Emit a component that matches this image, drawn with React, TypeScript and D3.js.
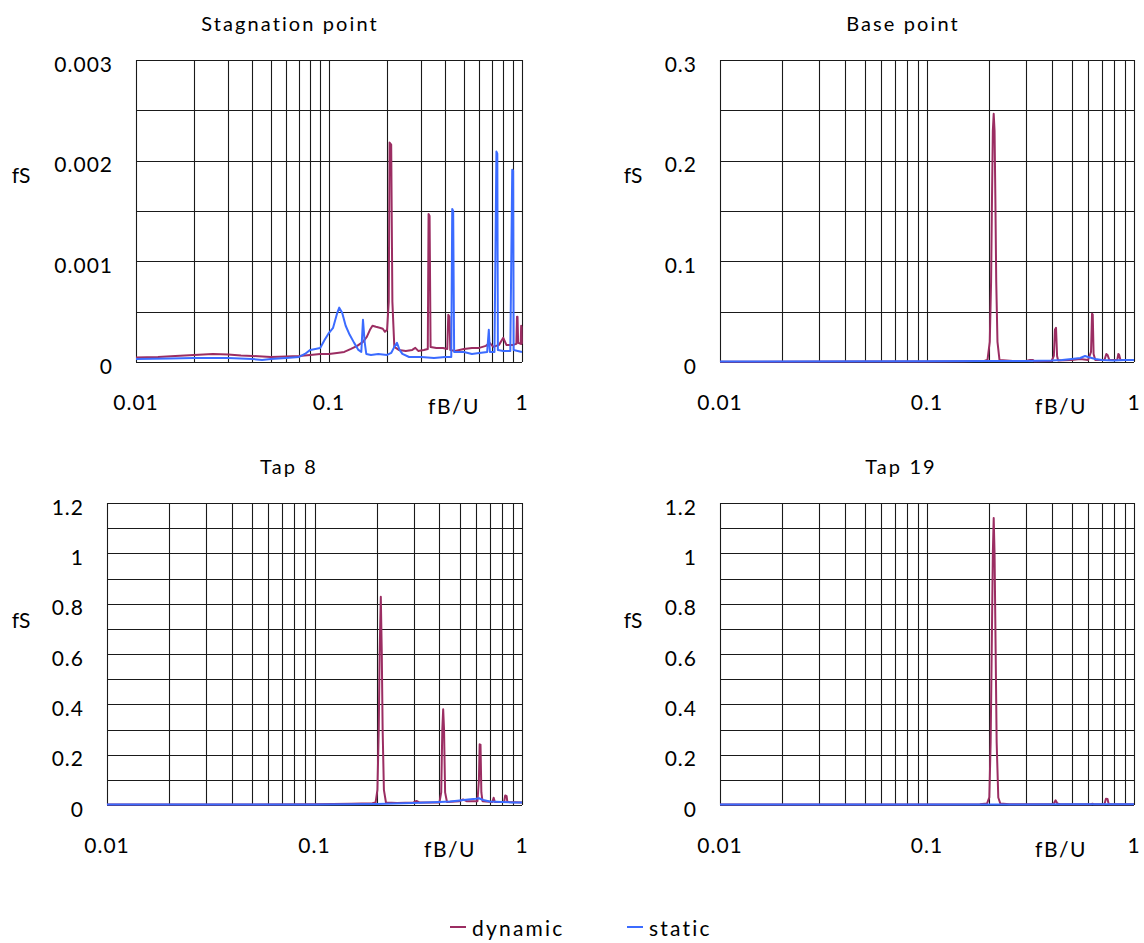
import React from "react";
import * as d3 from "d3";

// ---------- data ----------
const xTickValues = [0.01, 0.1, 1];
const xTickLabels = ["0.01", "0.1", "1"];

const stagYTicks = [0, 0.001, 0.002, 0.003];
const stagYLabels = ["0", "0.001", "0.002", "0.003"];
const baseYTicks = [0, 0.1, 0.2, 0.3];
const baseYLabels = ["0", "0.1", "0.2", "0.3"];
const tapYTicks = [0, 0.2, 0.4, 0.6, 0.8, 1, 1.2];
const tapYLabels = ["0", "0.2", "0.4", "0.6", "0.8", "1", "1.2"];

const seriesNames = ["dynamic", "static"];
const panelTitles = ["Stagnation point", "Base point", "Tap 8", "Tap 19"];

const stagDynamic: [number, number][] = [
  [0.01, 0.000045], [0.013, 0.00005], [0.016, 0.00006], [0.02, 0.00007], [0.025, 0.00008],
  [0.03, 0.000075], [0.035, 0.000065], [0.04, 0.00006], [0.05, 0.00005], [0.06, 0.000055],
  [0.07, 0.00006], [0.08, 0.00007], [0.09, 0.00008], [0.1, 0.00008], [0.11, 0.00009],
  [0.12, 0.0001], [0.13, 0.00013], [0.14, 0.00016], [0.15, 0.0002], [0.157, 0.00025],
  [0.163, 0.00032], [0.168, 0.00036], [0.175, 0.00035], [0.183, 0.00034], [0.19, 0.00033],
  [0.195, 0.0003], [0.2, 0.00032], [0.204, 0.0006], [0.206, 0.00218], [0.21, 0.00216],
  [0.213, 0.0006], [0.218, 0.00015], [0.23, 0.00012], [0.25, 0.00011], [0.27, 0.00012],
  [0.28, 0.00014], [0.29, 0.00011], [0.31, 0.00012], [0.325, 0.00013], [0.328, 0.00147],
  [0.332, 0.00145], [0.336, 0.00015], [0.36, 0.00014], [0.39, 0.00014], [0.41, 0.00013],
  [0.415, 0.00047], [0.421, 0.00045], [0.425, 0.00012], [0.45, 0.00011], [0.5, 0.00013],
  [0.55, 0.00014], [0.6, 0.00014], [0.65, 0.00016], [0.68, 0.00019], [0.71, 0.00015],
  [0.76, 0.00017], [0.8, 0.00024], [0.83, 0.00017], [0.9, 0.00017], [0.935, 0.00018],
  [0.942, 0.00045], [0.948, 0.00045], [0.955, 0.00019], [0.985, 0.00018], [0.99, 0.00036],
  [0.995, 0.00035], [0.998, 0.00018], [1.0, 0.00018],
];

const stagStatic: [number, number][] = [
  [0.01, 0.00003], [0.015, 0.000035], [0.02, 0.00004], [0.03, 0.00004], [0.04, 0.00003],
  [0.045, 0.00002], [0.05, 0.00003], [0.06, 0.00004], [0.07, 0.00005], [0.075, 0.00008],
  [0.08, 0.00012], [0.085, 0.00013], [0.09, 0.00014], [0.095, 0.00022], [0.1, 0.00029],
  [0.105, 0.00034], [0.11, 0.00048], [0.113, 0.00054], [0.117, 0.00049], [0.122, 0.00036],
  [0.128, 0.00027], [0.135, 0.00019], [0.142, 0.00012], [0.147, 0.0001], [0.15, 0.00042],
  [0.153, 0.0002], [0.156, 0.00008], [0.165, 0.00007], [0.18, 0.00008], [0.2, 0.00007],
  [0.21, 0.00009], [0.218, 0.00015], [0.225, 0.00019], [0.232, 0.00012], [0.24, 0.00008],
  [0.26, 0.00005], [0.3, 0.00005], [0.35, 0.00004], [0.4, 0.00005], [0.43, 0.00005],
  [0.435, 0.00152], [0.44, 0.0015], [0.445, 0.0001], [0.5, 0.0001], [0.55, 0.00008],
  [0.6, 0.00009], [0.66, 0.0001], [0.673, 0.00032], [0.682, 0.0001], [0.72, 0.0001],
  [0.737, 0.00209], [0.745, 0.00207], [0.75, 0.00012], [0.8, 0.00011], [0.87, 0.00011],
  [0.89, 0.00191], [0.9, 0.0019], [0.905, 0.00012], [0.95, 0.00011], [1.0, 0.0001],
];

const baseDynamic: [number, number][] = [
  [0.01, 0.0003], [0.05, 0.0004], [0.1, 0.0006], [0.15, 0.0008], [0.19, 0.0012],
  [0.196, 0.002], [0.201, 0.02], [0.204, 0.08], [0.206, 0.16], [0.208, 0.23],
  [0.21, 0.2465], [0.212, 0.23], [0.214, 0.16], [0.216, 0.08], [0.219, 0.02],
  [0.224, 0.002], [0.26, 0.001], [0.3, 0.001], [0.315, 0.002], [0.325, 0.002],
  [0.33, 0.0008], [0.4, 0.001], [0.41, 0.006], [0.415, 0.032], [0.42, 0.034],
  [0.425, 0.006], [0.43, 0.0015], [0.5, 0.002], [0.55, 0.003], [0.6, 0.002],
  [0.62, 0.01], [0.627, 0.048], [0.632, 0.047], [0.638, 0.008], [0.65, 0.002],
  [0.72, 0.002], [0.735, 0.008], [0.745, 0.007], [0.76, 0.002], [0.83, 0.002],
  [0.84, 0.008], [0.848, 0.007], [0.86, 0.002], [1.0, 0.002],
];

const baseStatic: [number, number][] = [
  [0.01, 0.0005], [0.1, 0.0008], [0.2, 0.001], [0.3, 0.001], [0.4, 0.0015],
  [0.45, 0.002], [0.5, 0.003], [0.55, 0.004], [0.58, 0.006], [0.6, 0.005],
  [0.65, 0.003], [0.7, 0.002], [0.8, 0.0015], [0.9, 0.002], [1.0, 0.002],
];

const tap8Dynamic: [number, number][] = [
  [0.01, 0.002], [0.05, 0.002], [0.1, 0.003], [0.15, 0.005], [0.19, 0.007],
  [0.197, 0.01], [0.201, 0.06], [0.204, 0.3], [0.206, 0.6], [0.2087, 0.827],
  [0.211, 0.6], [0.213, 0.3], [0.216, 0.06], [0.221, 0.01], [0.25, 0.008],
  [0.3, 0.01], [0.31, 0.016], [0.32, 0.01], [0.4, 0.01], [0.408, 0.05],
  [0.413, 0.3], [0.417, 0.38], [0.421, 0.3], [0.426, 0.05], [0.435, 0.012],
  [0.5, 0.015], [0.52, 0.022], [0.54, 0.015], [0.61, 0.015], [0.62, 0.1],
  [0.625, 0.241], [0.631, 0.24], [0.637, 0.05], [0.645, 0.015], [0.72, 0.012],
  [0.73, 0.029], [0.74, 0.012], [0.82, 0.012], [0.83, 0.038], [0.843, 0.035],
  [0.85, 0.012], [1.0, 0.01],
];

const tap8Static: [number, number][] = [
  [0.01, 0.002], [0.1, 0.002], [0.15, 0.003], [0.2, 0.004], [0.3, 0.008],
  [0.4, 0.012], [0.45, 0.014], [0.5, 0.018], [0.55, 0.022], [0.6, 0.025],
  [0.62, 0.027], [0.65, 0.02], [0.7, 0.014], [0.8, 0.012], [0.9, 0.01], [1.0, 0.01],
];

const tap19Dynamic: [number, number][] = [
  [0.01, 0.002], [0.1, 0.002], [0.18, 0.003], [0.195, 0.006], [0.2, 0.03],
  [0.203, 0.25], [0.206, 0.7], [0.208, 1.0], [0.21, 1.14], [0.212, 1.0],
  [0.214, 0.7], [0.217, 0.25], [0.221, 0.03], [0.226, 0.006], [0.25, 0.003],
  [0.4, 0.003], [0.41, 0.006], [0.418, 0.0185], [0.426, 0.006], [0.44, 0.003],
  [0.62, 0.003], [0.63, 0.005], [0.64, 0.003], [0.72, 0.003], [0.732, 0.025],
  [0.745, 0.024], [0.755, 0.003], [1.0, 0.003],
];

const tap19Static: [number, number][] = [
  [0.01, 0.002], [0.2, 0.002], [0.5, 0.003], [1.0, 0.003],
];

// ---------- layout ----------
const COLORS = ["#9B2D62", "#3B6BFF"];
const FONT = "Lato, 'Open Sans', sans-serif";

type Panel = {
  title: string;
  left: number; right: number; top: number; bottom: number;
  yMax: number; yStep: number;
  yTicks: number[]; yLabels: string[];
  titlePos: [number, number];
  fsPos: [number, number];
  fbuPos: [number, number];
  series: [number, number][][];
};

const panels: Panel[] = [
  {
    title: panelTitles[0], left: 136, right: 522, top: 60, bottom: 362,
    yMax: 0.003, yStep: 0.0005, yTicks: stagYTicks, yLabels: stagYLabels,
    titlePos: [290, 23], fsPos: [21, 174], fbuPos: [454, 405],
    series: [stagDynamic, stagStatic],
  },
  {
    title: panelTitles[1], left: 720, right: 1134, top: 60, bottom: 362,
    yMax: 0.3, yStep: 0.05, yTicks: baseYTicks, yLabels: baseYLabels,
    titlePos: [903, 23], fsPos: [633, 174], fbuPos: [1061, 405],
    series: [baseDynamic, baseStatic],
  },
  {
    title: panelTitles[2], left: 107, right: 522, top: 503, bottom: 805,
    yMax: 1.2, yStep: 0.1, yTicks: tapYTicks, yLabels: tapYLabels,
    titlePos: [289, 466], fsPos: [21, 619], fbuPos: [450, 848],
    series: [tap8Dynamic, tap8Static],
  },
  {
    title: panelTitles[3], left: 720, right: 1134, top: 503, bottom: 805,
    yMax: 1.2, yStep: 0.1, yTicks: tapYTicks, yLabels: tapYLabels,
    titlePos: [901, 466], fsPos: [633, 619], fbuPos: [1061, 848],
    series: [tap19Dynamic, tap19Static],
  },
];

function ChartPanel({ p }: { p: Panel }) {
  const x = d3.scaleLog().domain([0.01, 1]).range([p.left, p.right]);
  const y = d3.scaleLinear().domain([0, p.yMax]).range([p.bottom, p.top]);
  const xGrid: number[] = [];
  for (const dec of [0.01, 0.1]) {
    for (let k = 1; k <= 9; k++) xGrid.push(+(dec * k).toPrecision(3));
  }
  xGrid.push(1);
  const nY = Math.round(p.yMax / p.yStep);
  const yGrid = d3.range(0, nY + 1).map((i) => i * p.yStep);
  const line = d3
    .line<[number, number]>()
    .x((d) => x(d[0]))
    .y((d) => y(d[1]))
    .curve(d3.curveLinear);
  const cr = (v: number) => Math.round(v) + 0.5;

  return (
    <g>
      {yGrid.map((v, i) => (
        <line key={"yg" + i} x1={p.left} x2={p.right} y1={cr(y(v))} y2={cr(y(v))} stroke="#1a1a1a" strokeWidth={1.1} />
      ))}
      {xGrid.map((v, i) => (
        <line key={"xg" + i} x1={cr(x(v))} x2={cr(x(v))} y1={p.top} y2={p.bottom} stroke="#1a1a1a" strokeWidth={1.1} />
      ))}
      {p.series.map((s, i) => (
        <path key={"s" + i} d={line(s) || ""} fill="none" stroke={COLORS[i]} strokeWidth={2} strokeLinejoin="round" />
      ))}
      {p.yTicks.map((v, i) => (
        <text key={"yl" + i} x={p.left - 23} y={y(v) + 3} textAnchor="end" dominantBaseline="central"
          fontFamily={FONT} fontSize={21} letterSpacing={1} fill="#000">
          {p.yLabels[i]}
        </text>
      ))}
      {xTickValues.map((v, i) => (
        <text key={"xl" + i} x={x(v)} y={p.bottom + 39} textAnchor="middle" dominantBaseline="central"
          fontFamily={FONT} fontSize={21} letterSpacing={1} fill="#000">
          {xTickLabels[i]}
        </text>
      ))}
      <text x={p.titlePos[0]} y={p.titlePos[1]} textAnchor="middle" dominantBaseline="central"
        fontFamily={FONT} fontSize={20} letterSpacing={2.1} fill="#000">
        {p.title}
      </text>
      <text x={p.fsPos[0]} y={p.fsPos[1]} textAnchor="middle" dominantBaseline="central"
        fontFamily={FONT} fontSize={21} fill="#000">
        fS
      </text>
      <text x={p.fbuPos[0]} y={p.fbuPos[1]} textAnchor="middle" dominantBaseline="central"
        fontFamily={FONT} fontSize={21} letterSpacing={1.5} fill="#000">
        fB/U
      </text>
    </g>
  );
}

export default function App() {
  const legendX = [450, 627];
  return (
    <svg width={1144} height={943} style={{ position: "absolute", left: 0, top: 0, background: "#fff" }}>
      <rect x={0} y={0} width={1144} height={943} fill="#fff" />
      {panels.map((p, i) => (
        <ChartPanel key={i} p={p} />
      ))}
      {seriesNames.map((n, i) => (
        <g key={n}>
          <line x1={legendX[i]} x2={legendX[i] + 16} y1={927} y2={927} stroke={COLORS[i]} strokeWidth={2} />
          <text x={legendX[i] + 22} y={927} dominantBaseline="central" fontFamily={FONT} fontSize={21}
            letterSpacing={2.2} fill="#000">
            {n}
          </text>
        </g>
      ))}
    </svg>
  );
}
